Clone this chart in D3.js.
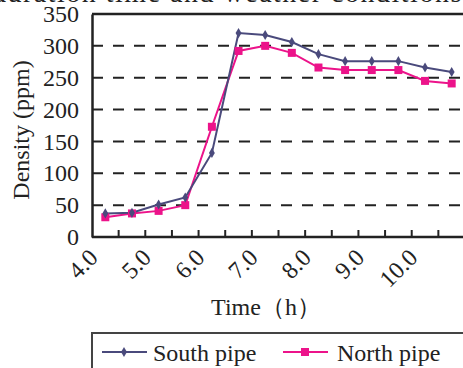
<!DOCTYPE html>
<html><head><meta charset="utf-8">
<script src="https://cdn.jsdelivr.net/npm/d3@7"></script>
<style>
body{margin:0;background:#fff;overflow:hidden}
svg{display:block}
text{font-family:"Liberation Serif","Times New Roman",serif;fill:#222}
</style></head>
<body>
<svg id="c" width="463" height="368"></svg>
<script>
const categories = ["4.0","4.5","5.0","5.5","6.0","6.5","7.0","7.5","8.0","8.5","9.0","9.5","10.0","10.5"];
const southPipe = [37, 38, 51, 62, 132, 320, 317, 306, 287, 276, 276, 276, 266, 259];
const northPipe = [31, 37, 41, 50, 173, 292, 300, 289, 266, 262, 262, 262, 245, 241];
const yTicks = [0, 50, 100, 150, 200, 250, 300, 350];
const xLabels = ["4.0","5.0","6.0","7.0","8.0","9.0","10.0"];
const seriesNames = ["South pipe", "North pipe"];

const svg = d3.select("#c");
const L = 92, T = 14, B = 237, R = 465;
const x = d3.scaleBand().domain(categories).range([L, R]);
const y = d3.scaleLinear().domain([0, 350]).range([B, T]);

// partial title at top (cut off by the image edge)
svg.append("text").attr("x", -8).attr("y", 2).attr("font-size", 28).attr("letter-spacing", 1.5)
  .text("duration time and weather conditions");

// gridlines
svg.append("g").selectAll("line").data(yTicks.filter(d => d > 0 && d < 350)).join("line")
  .attr("x1", L).attr("x2", R).attr("y1", d => y(d)).attr("y2", d => y(d))
  .attr("stroke", "#222").attr("stroke-width", 2).attr("stroke-dasharray", "11,10");

// top frame
svg.append("line").attr("x1", L).attr("x2", R).attr("y1", T).attr("y2", T)
  .attr("stroke", "#222").attr("stroke-width", 2.5);

// y axis
const yAxis = d3.axisLeft(y).tickValues(yTicks).tickSize(0).tickPadding(13);
const gy = svg.append("g").attr("transform", `translate(${L},0)`).call(yAxis);
gy.select(".domain").attr("stroke", "#222").attr("stroke-width", 2.5);
gy.selectAll("text").attr("font-size", 24).attr("font-family", "Liberation Serif").attr("fill", "#222");

// x axis with inside ticks at category boundaries
const gx = svg.append("g").attr("transform", `translate(0,${B})`);
gx.append("line").attr("x1", L).attr("x2", R).attr("stroke", "#222").attr("stroke-width", 2.5);
const bounds = categories.map(c => x(c)).slice(1);
gx.selectAll("line.tk").data(bounds).join("line").attr("class", "tk")
  .attr("x1", d => d).attr("x2", d => d).attr("y1", 0).attr("y2", -7)
  .attr("stroke", "#222").attr("stroke-width", 2);
gx.selectAll("text").data(xLabels).join("text")
  .attr("font-size", 24).attr("text-anchor", "end")
  .attr("transform", d => `translate(${x(d) + x.bandwidth() / 2 - 6},${22}) rotate(-45)`)
  .text(d => d);

// axis titles
svg.append("text").attr("x", 266).attr("y", 315).attr("text-anchor", "middle")
  .attr("font-size", 24).text("Time（h）");
svg.append("text").attr("transform", "translate(29,130) rotate(-90)").attr("text-anchor", "middle")
  .attr("font-size", 24).text("Density (ppm)");

const cx = (d, i) => x(categories[i]) + x.bandwidth() / 2;
const line = d3.line().x(cx).y(d => y(d));
const sCol = "#4a4a7c", nCol = "#ec138a";

svg.append("path").datum(northPipe).attr("d", line).attr("fill", "none").attr("stroke", nCol).attr("stroke-width", 2);
svg.append("path").datum(southPipe).attr("d", line).attr("fill", "none").attr("stroke", sCol).attr("stroke-width", 2);

svg.append("g").selectAll("rect").data(northPipe).join("rect")
  .attr("x", (d, i) => cx(d, i) - 4).attr("y", d => y(d) - 4).attr("width", 8).attr("height", 8).attr("fill", nCol);
const diamond = d3.symbol().type(d3.symbolDiamond).size(30);
svg.append("g").selectAll("path").data(southPipe).join("path")
  .attr("d", diamond).attr("transform", (d, i) => `translate(${cx(d, i)},${y(d)})`).attr("fill", sCol);

// legend
svg.append("rect").attr("x", 92).attr("y", 333).attr("width", 400).attr("height", 60)
  .attr("fill", "none").attr("stroke", "#444").attr("stroke-width", 2);
const lg = [{name: seriesNames[0], col: sCol, x0: 102, tx: 153}, {name: seriesNames[1], col: nCol, x0: 283, tx: 337}];
lg.forEach((g, i) => {
  svg.append("line").attr("x1", g.x0).attr("x2", g.x0 + 45).attr("y1", 352).attr("y2", 352)
    .attr("stroke", g.col).attr("stroke-width", 2);
  if (i === 0) svg.append("path").attr("d", diamond).attr("transform", `translate(${g.x0 + 22},352)`).attr("fill", g.col);
  else svg.append("rect").attr("x", g.x0 + 18).attr("y", 348).attr("width", 8).attr("height", 8).attr("fill", g.col);
  svg.append("text").attr("x", g.tx).attr("y", 361).attr("font-size", 24).text(g.name);
});
</script>
</body></html>
